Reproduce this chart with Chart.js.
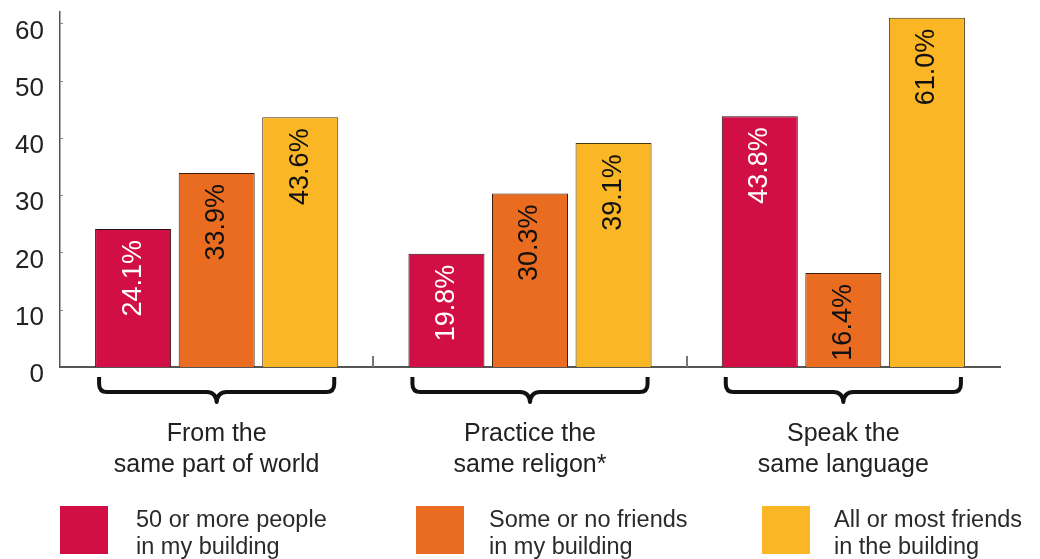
<!DOCTYPE html>
<html><head><meta charset="utf-8">
<script src="https://cdn.jsdelivr.net/npm/chart.js@4/dist/chart.umd.min.js"></script>
<style>
html,body{margin:0;padding:0;background:#fff;}
#wrap{position:relative;width:1040px;height:559px;overflow:hidden;}
#c{position:absolute;left:0;top:0;}
.lt{position:absolute;top:506px;font-family:"Liberation Sans",Arial,sans-serif;font-size:23.5px;line-height:27px;color:#2a2a2a;white-space:nowrap;}
.sw{position:absolute;top:506px;width:48px;height:48px;}
</style></head><body>
<div id="wrap"><canvas id="c" width="1040" height="559"></canvas><div id="legend"></div></div>
<script>
const categories = [["From the","same part of world"],["Practice the","same religon*"],["Speak the","same language"]];
const seriesNames = [["50 or more people","in my building"],["Some or no friends","in my building"],["All or most friends","in the building"]];
const bigBuilding = [24.1, 19.8, 43.8];
const someFriends = [33.9, 30.3, 16.4];
const mostFriends = [43.6, 39.1, 61.0];
const yTickValues = [0,10,20,30,40,50,60];

const colors = ['#D20F45','#E96C21','#FBB626'];
const borderColors = ['#2a1015','#3a200c','#4a350c'];
const labelColors = ['#ffffff','#111111','#111111'];
const FONT = '"Liberation Sans", Arial, sans-serif';

// HTML legend
const legend = document.getElementById('legend');
const swLeft = [60,416,762], txLeft=[136,489,834];
seriesNames.forEach((n,i)=>{
  const s=document.createElement('div'); s.className='sw'; s.style.left=swLeft[i]+'px'; s.style.background=colors[i]; legend.appendChild(s);
  const t=document.createElement('div'); t.className='lt'; t.style.left=txLeft[i]+'px'; t.innerHTML=n.join('<br>'); legend.appendChild(t);
});

const decor = {
  id:'decor',
  afterDraw(chart){
    const ctx=chart.ctx, x=chart.scales.x, y=chart.scales.y, area=chart.chartArea;
    ctx.save();
    // small y tick marks
    ctx.strokeStyle='#888'; ctx.lineWidth=1;
    yTickValues.forEach(v=>{ if(v===0) return; const py=Math.round(y.getPixelForValue(v))+0.5; ctx.beginPath(); ctx.moveTo(area.left, py); ctx.lineTo(area.left+3, py); ctx.stroke();});
    // category separators
    ctx.strokeStyle='#777'; ctx.lineWidth=2;
    for(let i=1;i<categories.length;i++){
      const px=Math.round((x.getPixelForValue(i-1)+x.getPixelForValue(i))/2);
      ctx.beginPath(); ctx.moveTo(px, area.bottom); ctx.lineTo(px, area.bottom-11); ctx.stroke();
    }
    // data labels
    chart.data.datasets.forEach((ds,di)=>{
      const meta=chart.getDatasetMeta(di);
      meta.data.forEach((bar,i)=>{
        ctx.save(); ctx.translate(bar.x, bar.y+11); ctx.rotate(-Math.PI/2);
        ctx.font='27px '+FONT; ctx.fillStyle=labelColors[di]; ctx.textAlign='right'; ctx.textBaseline='middle';
        ctx.fillText(ds.data[i].toFixed(1)+'%',0,0); ctx.restore();
      });
    });
    // brackets
    const m0=chart.getDatasetMeta(0), m2=chart.getDatasetMeta(2);
    ctx.strokeStyle='#111'; ctx.lineWidth=4; ctx.lineJoin='round'; ctx.lineCap='butt';
    const top=area.bottom+10, h=area.bottom+25, tip=area.bottom+35;
    categories.forEach((c,i)=>{
      const b0=m0.data[i], b2=m2.data[i];
      const x0=b0.x-b0.width/2+4, x1=b2.x+b2.width/2-4, cx=x.getPixelForValue(i);
      ctx.beginPath();
      ctx.moveTo(x0, top); ctx.lineTo(x0, h-8); ctx.quadraticCurveTo(x0, h, x0+8, h);
      ctx.lineTo(cx-10, h); ctx.quadraticCurveTo(cx-1, h, cx, tip); ctx.quadraticCurveTo(cx+1, h, cx+10, h);
      ctx.lineTo(x1-8, h); ctx.quadraticCurveTo(x1, h, x1, h-8); ctx.lineTo(x1, top);
      ctx.stroke();
    });
    ctx.restore();
  }
};

new Chart(document.getElementById('c'), {
  type:'bar',
  data:{
    labels: categories,
    datasets:[
      {label:seriesNames[0].join(' '), data:bigBuilding, backgroundColor:colors[0], borderColor:borderColors[0], borderWidth:1},
      {label:seriesNames[1].join(' '), data:someFriends, backgroundColor:colors[1], borderColor:borderColors[1], borderWidth:1},
      {label:seriesNames[2].join(' '), data:mostFriends, backgroundColor:colors[2], borderColor:borderColors[2], borderWidth:1}
    ]
  },
  options:{
    responsive:false, animation:false, devicePixelRatio:1,
    layout:{padding:{left:0,right:40,top:12,bottom:72}},
    plugins:{legend:{display:false}, tooltip:{enabled:false}},
    datasets:{bar:{barPercentage:0.91, categoryPercentage:0.80}},
    scales:{
      x:{
        grid:{display:false, drawTicks:false},
        border:{display:true, color:'#555', width:2},
        ticks:{padding:51, color:'#222', font:{family:FONT, size:25, lineHeight:1.26}},
        afterFit(s){ s.height=120; s.paddingLeft=0; s.paddingRight=0; }
      },
      y:{
        min:0, max:62,
        grid:{display:false, drawTicks:false},
        border:{display:true, color:'#555', width:1.5},
        afterBuildTicks(s){ s.ticks = yTickValues.map(v=>({value:v})); },
        ticks:{padding:16, labelOffset:8, color:'#222', font:{family:FONT, size:26}},
        afterFit(s){ s.width=60; s.paddingTop=0; s.paddingBottom=0; }
      }
    }
  },
  plugins:[decor]
});
</script>
</body></html>
